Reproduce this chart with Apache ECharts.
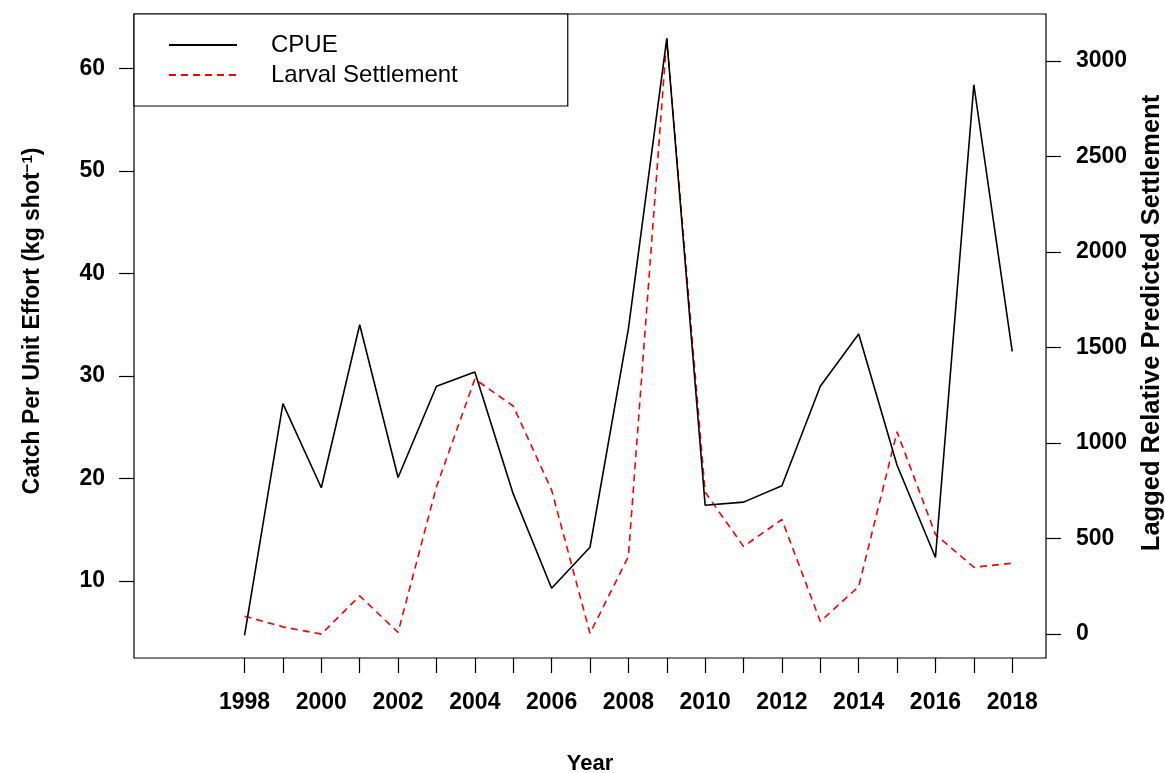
<!DOCTYPE html>
<html>
<head>
<meta charset="utf-8">
<script src="https://cdn.jsdelivr.net/npm/echarts@6/dist/echarts.min.js"></script>
<style>
  html, body { margin: 0; padding: 0; background: #fff; }
  #chart { width: 1165px; height: 773px; }
</style>
</head>
<body>
<div id="chart"></div>
<script>
// Survey years
const years = [1998, 1999, 2000, 2001, 2002, 2003, 2004, 2005, 2006, 2007, 2008,
               2009, 2010, 2011, 2012, 2013, 2014, 2015, 2016, 2017, 2018];
// Catch per unit effort (kg per shot)
const cpue = [4.7, 27.3, 19.1, 35.0, 20.1, 29.0, 30.4, 18.5, 9.3, 13.3, 34.6,
              62.9, 17.4, 17.7, 19.3, 29.0, 34.1, 21.3, 12.3, 58.4, 32.4];
// Lagged relative predicted larval settlement
const settlement = [94, 38, 0, 200, 9, 771, 1335, 1194, 754, 4, 406,
                    3120, 743, 459, 600, 66, 249, 1059, 522, 350, 371];
// Axis ticks and labels
const yearTicks = years.slice();
const yearLabels = years.filter(y => y % 2 === 0);
const cpueTicks = [10, 20, 30, 40, 50, 60];
const settlementTicks = [0, 500, 1000, 1500, 2000, 2500, 3000];

const FONT = '"Liberation Sans", Arial, sans-serif';

const chart = echarts.init(document.getElementById('chart'), null, { renderer: 'canvas' });

const tickLabel = { fontFamily: FONT, fontSize: 23, fontWeight: 'bold', color: '#000' };
const tickLine = { color: '#000', width: 1.2 };

chart.setOption({
  backgroundColor: '#fff',
  animation: false,
  grid: {
    left: 134, top: 14, width: 912, height: 644,
    outerBoundsMode: 'none',
    containLabel: false,
    show: true, borderColor: '#000', borderWidth: 1.2, backgroundColor: 'transparent'
  },
  legend: {
    orient: 'vertical',
    left: 134, top: 14,
    padding: [19, 110, 19, 34],
    borderColor: '#000', borderWidth: 1.2, borderRadius: 0,
    backgroundColor: '#fff',
    itemWidth: 68, itemHeight: 14, itemGap: 6,
    itemStyle: { opacity: 0 },
    textStyle: { fontFamily: FONT, fontSize: 24, color: '#000', lineHeight: 24, padding: [0, 0, 0, 29] },
    data: ['CPUE', 'Larval Settlement']
  },
  xAxis: {
    type: 'value',
    min: 1995.12, max: 2018.88,
    name: 'Year',
    nameLocation: 'middle',
    nameGap: 95,
    nameTextStyle: { fontFamily: FONT, fontSize: 22, fontWeight: 'bold', color: '#000' },
    axisLine: { show: false, onZero: false },
    axisTick: { show: true, inside: false, length: 15, customValues: yearTicks, lineStyle: tickLine },
    axisLabel: Object.assign({ customValues: yearLabels, margin: 33,
                               formatter: v => String(v) }, tickLabel),
    splitLine: { show: false }
  },
  yAxis: [
    {
      type: 'value',
      position: 'left',
      min: 2.5, max: 65.3,
      name: 'Catch Per Unit Effort (kg shot{sup|−1})',
      nameLocation: 'middle',
      nameRotate: 90,
      nameGap: 88,
      nameTextStyle: {
        fontFamily: FONT, fontSize: 23, fontWeight: 'bold', color: '#000', lineHeight: 26,
        padding: [0, 0, 0, 30],
        rich: { sup: { fontFamily: FONT, fontSize: 15, fontWeight: 'bold', color: '#000',
                       verticalAlign: 'top', lineHeight: 26, padding: [0, 0, 8, 0] } }
      },
      axisLine: { show: false, onZero: false },
      axisTick: { show: true, length: 15, customValues: cpueTicks, lineStyle: tickLine },
      axisLabel: Object.assign({ customValues: cpueTicks, margin: 29,
                                 formatter: v => String(v) }, tickLabel),
      splitLine: { show: false }
    },
    {
      type: 'value',
      position: 'right',
      min: -125, max: 3246,
      name: 'Lagged Relative Predicted Settlement',
      nameLocation: 'middle',
      nameRotate: 90,
      nameGap: 93,
      nameTextStyle: { fontFamily: FONT, fontSize: 25.5, fontWeight: 'bold', color: '#000',
                       padding: [0, 0, 0, 26] },
      axisLine: { show: false, onZero: false },
      axisTick: { show: true, length: 15, customValues: settlementTicks, lineStyle: tickLine },
      axisLabel: Object.assign({ customValues: settlementTicks, margin: 30,
                                 formatter: v => String(v) }, tickLabel),
      splitLine: { show: false }
    }
  ],
  series: [
    {
      name: 'CPUE',
      type: 'line',
      yAxisIndex: 0,
      data: years.map((y, i) => [y, cpue[i]]),
      symbol: 'none',
      color: '#000',
      lineStyle: { color: '#000', width: 1.6 },
      z: 3
    },
    {
      name: 'Larval Settlement',
      type: 'line',
      yAxisIndex: 1,
      data: years.map((y, i) => [y, settlement[i]]),
      symbol: 'none',
      color: '#ff0000',
      lineStyle: { color: '#ff0000', width: 1.6, type: [7, 5] },
      z: 2
    }
  ]
});
</script>
</body>
</html>
